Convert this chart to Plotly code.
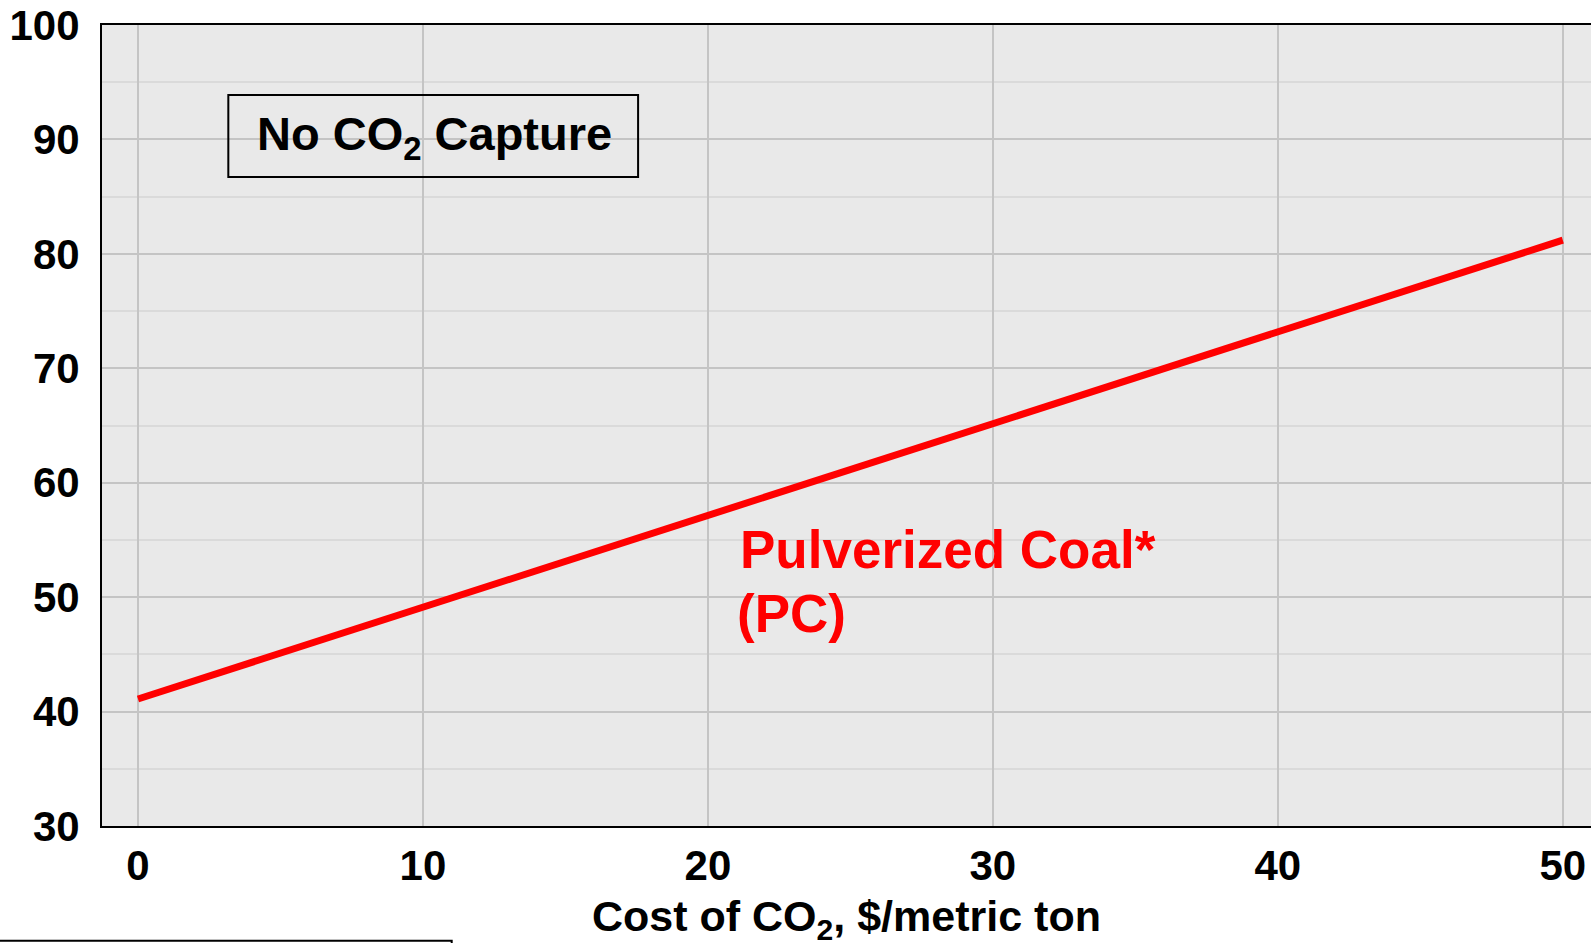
import plotly.graph_objects as go

# Cost of electricity for a pulverized coal plant vs. CO2 price
co2_cost = [0, 50]          # $/metric ton
coe_pc = [41.1, 81.2]       # cost of electricity

x_ticks = [0, 10, 20, 30, 40, 50]
y_ticks = [30, 40, 50, 60, 70, 80, 90, 100]

FONT = "Liberation Sans"
W, H = 1591, 943
M_L, M_T, M_B = 102, 25, 117
PLOT_H = H - M_T - M_B

fig = go.Figure()
fig.add_trace(go.Scatter(
    x=co2_cost, y=coe_pc, mode="lines",
    line=dict(color="#ff0000", width=7),
    showlegend=False, hoverinfo="skip",
))

fig.update_layout(
    width=W, height=H,
    margin=dict(l=M_L, r=0, t=M_T, b=M_B),
    paper_bgcolor="white",
    plot_bgcolor="#e9e9e9",
    font=dict(family=FONT, color="black", size=42, weight="bold"),
    xaxis=dict(
        range=[-1.263, 50.99],
        tickvals=x_ticks,
        ticktext=[str(v) for v in x_ticks],
        tickfont=dict(family=FONT, size=42, weight="bold"),
        showgrid=True, gridcolor="#c4c4c4", gridwidth=2,
        zeroline=False, automargin=False,
        showline=True, linecolor="black", linewidth=2, mirror=True,
        ticks="", ticklabelstandoff=2,
    ),
    yaxis=dict(
        range=[30, 100],
        tickvals=y_ticks,
        ticktext=[str(v) for v in y_ticks],
        tickfont=dict(family=FONT, size=42, weight="bold"),
        showgrid=True, gridcolor="#c4c4c4", gridwidth=2,
        minor=dict(dtick=5, showgrid=True, gridcolor="#dadada", gridwidth=2),
        zeroline=False, automargin=False,
        showline=True, linecolor="black", linewidth=2,
        ticks="", ticklabelstandoff=12,
    ),
)

# x-axis title, placed below the tick labels
fig.add_annotation(x=0.5, y=-93 / PLOT_H, xref="paper", yref="paper",
                   xanchor="center", yanchor="middle", showarrow=False,
                   text="Cost of CO<sub>2</sub>, $/metric ton",
                   font=dict(family=FONT, size=43, color="black", weight="bold"))

# "No CO2 Capture" boxed label
fig.add_shape(type="rect", xref="x", yref="y",
              x0=3.17, x1=17.55, y0=86.71, y1=93.88,
              line=dict(color="black", width=2), fillcolor="rgba(0,0,0,0)")
fig.add_annotation(x=4.1, y=90.25, xref="x", yref="y",
                   xanchor="left", yanchor="middle", showarrow=False,
                   text="No CO<sub>2</sub> Capture",
                   font=dict(family=FONT, size=47, color="black", weight="bold"))

# Series label
fig.add_annotation(x=21.05, y=54.15, xref="x", yref="y",
                   xanchor="left", yanchor="middle", showarrow=False,
                   text="Pulverized Coal*",
                   font=dict(family=FONT, size=53, color="#ff0000", weight="bold"))
fig.add_annotation(x=20.95, y=48.6, xref="x", yref="y",
                   xanchor="left", yanchor="middle", showarrow=False,
                   text="(PC)",
                   font=dict(family=FONT, size=53, color="#ff0000", weight="bold"))

# Footnote frame along the lower-left edge
fig.add_shape(type="rect", xref="paper", yref="paper",
              x0=-0.1, x1=(451.7 - M_L) / (W - M_L),
              y0=-0.17, y1=(H - M_B - 940.7) / PLOT_H,
              line=dict(color="black", width=2), fillcolor="rgba(0,0,0,0)")

fig.write_html("out.html")
